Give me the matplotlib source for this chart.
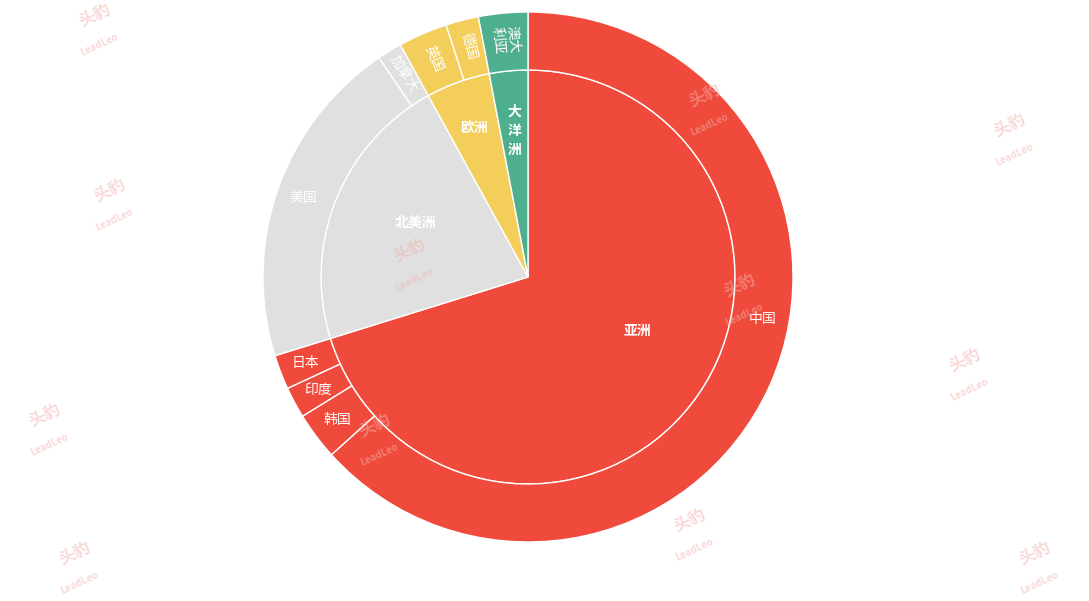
import numpy as np
import matplotlib
matplotlib.use('Agg')
import matplotlib.pyplot as plt

plt.rcParams['font.family'] = ['Noto Sans CJK SC', 'DejaVu Sans']

# inner ring: continents (share of total, %)
continents = ['亚洲', '北美洲', '欧洲', '大洋洲']
continent_share = [70.2, 21.8, 5.0, 3.0]

# outer ring: countries, in the same clockwise order
countries = ['中国', '韩国', '印度', '日本', '美国', '加拿大', '英国', '德国', '澳大利亚']
country_share = [63.3, 2.9, 1.9, 2.1, 20.3, 1.5, 3.0, 2.0, 3.0]
country_parent = ['亚洲', '亚洲', '亚洲', '亚洲', '北美洲', '北美洲', '欧洲', '欧洲', '大洋洲']

colors = {'亚洲': '#EF4A3B', '北美洲': '#E0E0E0', '欧洲': '#F3CE5B', '大洋洲': '#4EAF8E'}

W, H = 1089, 601
cx, cy = 528, H - 277
R_out, R_in = 265, 207

fig = plt.figure(figsize=(W / 100, H / 100), dpi=100)
ax = fig.add_axes([0, 0, 1, 1])

# watermarks
marks = [(95, 30), (1010, 140), (110, 205), (410, 265), (740, 300), (965, 375),
         (45, 430), (690, 535), (75, 568), (1035, 568), (705, 110), (375, 440)]
for mx, my in marks:
    ax.text(mx, H - my, '头豹', color='#F2B3AE', alpha=0.5, fontsize=12,
            fontweight='bold', rotation=25, ha='center', va='bottom', zorder=5)
    ax.text(mx + 4, H - my - 2, 'LeadLeo', color='#F2B3AE', alpha=0.5, fontsize=7,
            fontweight='bold', rotation=25, ha='center', va='top', zorder=5)

inner_cols = [colors[c] for c in continents]
outer_cols = [colors[p] for p in country_parent]

ax.pie(continent_share, radius=R_in, center=(cx, cy), startangle=90,
       counterclock=False, colors=inner_cols, frame=True,
       wedgeprops=dict(edgecolor='white', linewidth=1.0))
ax.pie(country_share, radius=R_out, center=(cx, cy), startangle=90,
       counterclock=False, colors=outer_cols, frame=True,
       wedgeprops=dict(width=R_out - R_in, edgecolor='white', linewidth=1.0))
ax.set_xlim(0, W)
ax.set_ylim(0, H)
ax.set_aspect('equal')
ax.axis('off')


def mid_angles(shares, frac=None):
    out = []
    start = 90.0
    for i, s in enumerate(shares):
        span = s * 3.6
        f = 0.5 if frac is None else frac[i]
        out.append(start - span * f)
        start -= span
    return out


# inner labels
in_frac = [0.46, 0.55, 0.5, 0.5]
in_rad = [122, 125, 158, 147]
for name, a, r in zip(continents, mid_angles(continent_share, in_frac), in_rad):
    t = np.deg2rad(a)
    label = '\n'.join(name) if name == '大洋洲' else name
    ax.text(cx + r * np.cos(t), cy + r * np.sin(t), label, color='white',
            fontsize=10, fontweight='bold', ha='center', va='center',
            linespacing=1.5, zorder=4)

# outer labels
out_frac = [0.44, 0.5, 0.5, 0.5, 0.5, 0.5, 0.5, 0.5, 0.5]
radial = {'加拿大', '英国', '德国', '澳大利亚'}
for name, a in zip(countries, mid_angles(country_share, out_frac)):
    t = np.deg2rad(a)
    r = 238
    label = '澳大\n利亚' if name == '澳大利亚' else name
    rot = 0
    if name in radial:
        rot = a - 180 if 90 < a % 360 < 270 else a
    ax.text(cx + r * np.cos(t), cy + r * np.sin(t), label, color='white',
            fontsize=10, ha='center', va='center', rotation=rot,
            rotation_mode='anchor', linespacing=1.1, zorder=4)

fig.savefig('out.png', dpi=100)
